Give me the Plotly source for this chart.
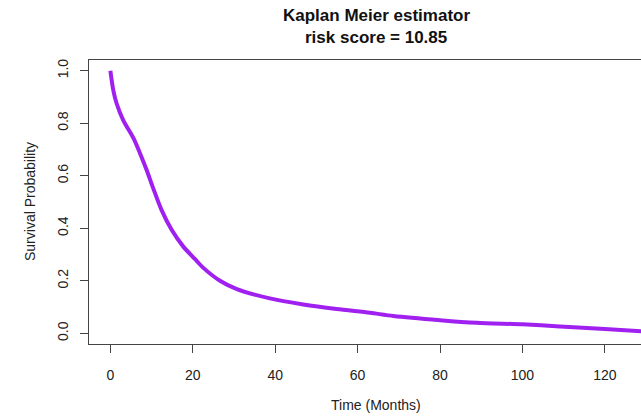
import plotly.graph_objects as go

# Kaplan-Meier curve
time_months = [0, 0.7, 1.5, 3.1, 5.6, 7.2, 8.8, 10.4, 12.4, 14.9, 17.7, 20.5, 22.5,
               26.6, 30.7, 38.7, 46.8, 54.9, 63.0, 68.7, 80.0, 88.9, 100.0, 109.1,
               120.0, 129.8]
survival = [1.0, 0.926, 0.876, 0.812, 0.743, 0.685, 0.622, 0.552, 0.470, 0.393,
            0.330, 0.283, 0.250, 0.200, 0.168, 0.133, 0.110, 0.0925, 0.078, 0.066,
            0.050, 0.040, 0.034, 0.026, 0.016, 0.007]

x_ticks = [0, 20, 40, 60, 80, 100, 120]
y_ticks = [0.0, 0.2, 0.4, 0.6, 0.8, 1.0]

title_line1 = "Kaplan Meier estimator"
title_line2 = "risk score = 10.85"
x_label = "Time (Months)"
y_label = "Survival Probability"

FONT = "Liberation Sans, Arial, Helvetica, sans-serif"

fig = go.Figure()
fig.add_trace(go.Scatter(
    x=time_months, y=survival, mode="lines",
    line=dict(color="#A020F0", width=4, shape="spline", smoothing=0.8),
    showlegend=False, hoverinfo="skip",
))

fig.update_layout(
    width=641, height=416,
    margin=dict(l=89, r=0, t=60, b=72),
    paper_bgcolor="white", plot_bgcolor="white",
    font=dict(family=FONT, size=14, color="#222222"),
    xaxis=dict(
        range=[-5.19, 128.78], tickvals=x_ticks, ticktext=[str(v) for v in x_ticks],
        showgrid=False, zeroline=False, showline=True, mirror=True,
        linecolor="#444444", linewidth=1.2,
        ticks="outside", ticklen=8, tickcolor="#444444", tickwidth=1,
        ticklabelstandoff=10,
        tickfont=dict(family=FONT, size=14, color="#222222"),
    ),
    yaxis=dict(
        range=[-0.0408, 1.0407], tickvals=y_ticks,
        ticktext=[f"{v:.1f}" for v in y_ticks], tickangle=-90,
        showgrid=False, zeroline=False, showline=True, mirror=False,
        linecolor="#444444", linewidth=1.2,
        ticks="outside", ticklen=8, tickcolor="#444444", tickwidth=1,
        ticklabelstandoff=6,
        tickfont=dict(family=FONT, size=14, color="#222222"),
    ),
    annotations=[
        dict(text=f"<b>{title_line1}</b>", x=376, y=416 - 15, xref="paper", yref="paper",
             showarrow=False, font=dict(family=FONT, size=17, color="#111111")),
        dict(text=f"<b>{title_line2}</b>", x=376, y=416 - 37, xref="paper", yref="paper",
             showarrow=False, font=dict(family=FONT, size=17, color="#111111")),
        dict(text=x_label, x=376, y=416 - 405, xref="paper", yref="paper",
             showarrow=False, font=dict(family=FONT, size=14, color="#222222")),
        dict(text=y_label, x=30, y=416 - 202, xref="paper", yref="paper",
             showarrow=False, textangle=-90, font=dict(family=FONT, size=14, color="#222222")),
    ],
)

# convert pixel positions of annotations to paper coordinates
pw, ph = 641 - 89, 416 - 60 - 72
new_ann = []
for a in fig.layout.annotations:
    a = a.to_plotly_json()
    a["x"] = (a["x"] - 89) / pw
    a["y"] = (a["y"] - 72) / ph
    a["xanchor"] = "center"
    a["yanchor"] = "middle"
    new_ann.append(a)
fig.layout.annotations = new_ann

fig.write_html("out.html")
